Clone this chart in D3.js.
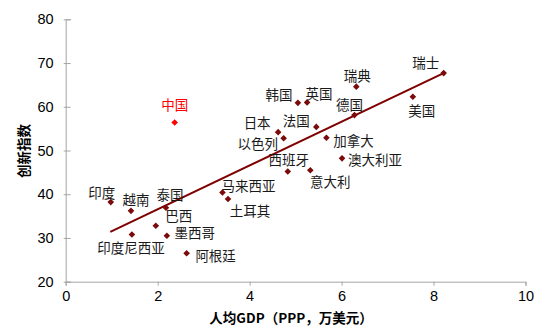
<!DOCTYPE html>
<html>
<head>
<meta charset="utf-8">
<script src="https://cdn.jsdelivr.net/npm/d3@7"></script>
<style>
  html, body { margin: 0; padding: 0; background: #fff; }
  svg { display: block; }
</style>
</head>
<body>
<svg id="chart" width="550" height="336"></svg>
<script>
// ---- data ----
const countries = ["瑞士","美国","瑞典","德国","韩国","英国","法国","日本","以色列","加拿大","澳大利亚","西班牙","意大利","马来西亚","土耳其","印度","越南","泰国","巴西","印度尼西亚","墨西哥","阿根廷"];
const gdp =       [8.22, 7.55, 6.32, 6.28, 5.05, 5.25, 5.45, 4.62, 4.74, 5.67, 6.01, 4.83, 5.32, 3.41, 3.53, 0.98, 1.42, 2.18, 1.96, 1.44, 2.20, 2.63];
const innovation =[67.7, 62.3, 64.6, 58.1, 60.9, 61.0, 55.4, 54.2, 52.8, 52.9, 48.2, 45.2, 45.5, 40.4, 38.9, 38.2, 36.2, 36.9, 32.8, 30.8, 30.5, 26.5];
const chinaName = "中国";
const chinaGdp = 2.37;
const chinaInnovation = 56.4;
const trendX = [0.97, 8.22];
const trendY = [31.4, 67.7];
const xTicks = [0, 2, 4, 6, 8, 10];
const yTicks = [20, 30, 40, 50, 60, 70, 80];
const xTitle = "人均GDP（PPP，万美元）";
const yTitle = "创新指数";

// label offsets (pixels, relative to marker) — layout only
const labelOffsets = [
  [-18, -11], [9, 13], [1, -12], [-5, -11], [-19, -9], [12, -9], [-20, -7],
  [-21, -10], [-26, 5], [27, 2], [33, 1], [1, -12], [20, 11], [26, -7],
  [22, 11], [-9, -10], [5, -12], [4, -14], [23, -11], [-1, 13], [28, -4], [29, 2]
];

// ---- layout ----
const svg = d3.select("#chart");
const x = d3.scaleLinear().domain([0, 10]).range([65.7, 525.5]);
const y = d3.scaleLinear().domain([20, 80]).range([281.7, 19.3]);
const axisColor = "#a6a6a6";
const markColor = "#7b0a0a";
const cjk = "'Noto Sans CJK SC', 'Noto Sans', sans-serif";
const latin = "'Liberation Sans', Arial, sans-serif";

// axes
const gx = svg.append("g").attr("transform", `translate(0,${y(20)})`)
  .call(d3.axisBottom(x).tickValues(xTicks).tickSize(4).tickPadding(5).tickFormat(d3.format("d")));
const gy = svg.append("g").attr("transform", `translate(${x(0)},0)`)
  .call(d3.axisLeft(y).tickValues(yTicks).tickSize(-5).tickPadding(12).tickFormat(d3.format("d")));
[gx, gy].forEach(g => {
  g.select(".domain").attr("stroke", axisColor).attr("stroke-width", 1);
  g.selectAll(".tick line").attr("stroke", axisColor);
  g.selectAll(".tick text").attr("fill", "#000").style("font-family", latin).style("font-size", "14.5px");
});
gy.selectAll(".tick line").attr("x1", -2);

// trend line
svg.append("line")
  .attr("x1", x(trendX[0])).attr("y1", y(trendY[0]))
  .attr("x2", x(trendX[1])).attr("y2", y(trendY[1]))
  .attr("stroke", "#7f0000").attr("stroke-width", 2);

// markers
const diamond = (cx, cy, r) => `M${cx},${cy - r}L${cx + r},${cy}L${cx},${cy + r}L${cx - r},${cy}Z`;
svg.append("g").selectAll("path").data(countries).join("path")
  .attr("d", (d, i) => diamond(x(gdp[i]), y(innovation[i]), 3.3))
  .attr("fill", markColor);

svg.append("path")
  .attr("d", diamond(x(chinaGdp), y(chinaInnovation), 3.3))
  .attr("fill", "#ff0000");

// labels
svg.append("g").selectAll("text").data(countries).join("text")
  .attr("x", (d, i) => x(gdp[i]) + labelOffsets[i][0])
  .attr("y", (d, i) => y(innovation[i]) + labelOffsets[i][1])
  .attr("text-anchor", "middle").attr("dominant-baseline", "central")
  .style("font-family", cjk).style("font-size", "13.5px").attr("fill", "#1a1a1a")
  .text(d => d);

svg.append("text")
  .attr("x", x(chinaGdp)).attr("y", y(chinaInnovation) - 19)
  .attr("text-anchor", "middle").attr("dominant-baseline", "central")
  .style("font-family", cjk).style("font-size", "13.5px").attr("fill", "#ff0000")
  .text(chinaName);

// axis titles
svg.append("text")
  .attr("x", 291).attr("y", 317)
  .attr("text-anchor", "middle").attr("dominant-baseline", "central")
  .style("font-family", cjk).style("font-size", "13.5px").style("font-weight", "bold")
  .text(xTitle);
svg.append("text")
  .attr("transform", `translate(23,151) rotate(-90)`)
  .attr("text-anchor", "middle").attr("dominant-baseline", "central")
  .style("font-family", cjk).style("font-size", "13.5px").style("font-weight", "bold")
  .text(yTitle);
</script>
</body>
</html>
